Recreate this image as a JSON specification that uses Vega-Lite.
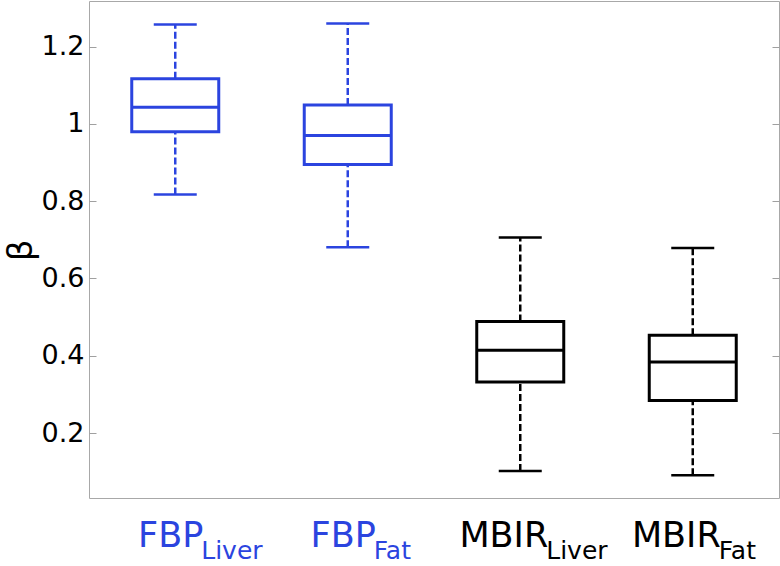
{
  "$schema": "https://vega.github.io/schema/vega-lite/v6.json",
  "width": 690,
  "height": 497,
  "autosize": {"type": "none"},
  "padding": {"left": 89, "top": 1, "right": 1, "bottom": 68},
  "background": "white",
  "config": {
    "view": {"stroke": "#a8a8a8", "strokeWidth": 1},
    "font": "DejaVu Sans"
  },
  "data": {
    "values": [
      {"pos": 1, "group": "FBP", "main": "FBP", "sub": "Liver", "lo": 0.817, "q1": 0.980, "med": 1.043, "q3": 1.117, "hi": 1.257},
      {"pos": 2, "group": "FBP", "main": "FBP", "sub": "Fat", "lo": 0.681, "q1": 0.895, "med": 0.970, "q3": 1.049, "hi": 1.260},
      {"pos": 3, "group": "MBIR", "main": "MBIR", "sub": "Liver", "lo": 0.102, "q1": 0.332, "med": 0.414, "q3": 0.489, "hi": 0.706},
      {"pos": 4, "group": "MBIR", "main": "MBIR", "sub": "Fat", "lo": 0.091, "q1": 0.284, "med": 0.384, "q3": 0.453, "hi": 0.679}
    ]
  },
  "encoding": {
    "x": {"field": "pos", "type": "quantitative", "scale": {"domain": [0.5, 4.5], "nice": false, "zero": false, "padding": 0}, "axis": null},
    "color": {"field": "group", "type": "nominal", "scale": {"domain": ["FBP", "MBIR"], "range": ["#2b44df", "#000000"]}, "legend": null}
  },
  "layer": [
    {
      "mark": {"type": "rule", "strokeWidth": 2.5, "strokeDash": [7, 3]},
      "encoding": {
        "y": {"field": "q3", "type": "quantitative",
          "scale": {"domain": [0.032, 1.318], "nice": false, "zero": false},
          "axis": {"title": "β", "titleFontSize": 34, "titleFontWeight": "normal", "titleColor": "#000", "titleAngle": -90, "titleX": -58, "titleY": 249, "titleBaseline": "alphabetic", "titleAlign": "center",
            "values": [0.2, 0.4, 0.6, 0.8, 1, 1.2], "format": ".1~f", "labelFontSize": 27, "labelColor": "#000", "labelPadding": 12,
            "tickSize": -7, "tickColor": "#a0a0a0", "domain": false, "grid": false}},
        "y2": {"field": "hi"}
      }
    },
    {
      "mark": {"type": "rule", "strokeWidth": 2.5, "strokeDash": [7, 3]},
      "encoding": {
        "y": {"field": "lo", "type": "quantitative",
          "axis": {"orient": "right", "title": null, "labels": false, "values": [0.2, 0.4, 0.6, 0.8, 1, 1.2], "tickSize": -7, "tickColor": "#a0a0a0", "domain": false, "grid": false}},
        "y2": {"field": "q1"}
      }
    },
    {
      "mark": {"type": "bar", "width": 87, "fill": "white", "fillOpacity": 0, "strokeWidth": 3},
      "encoding": {
        "y": {"field": "q1", "type": "quantitative", "axis": null},
        "y2": {"field": "q3"},
        "stroke": {"field": "group", "type": "nominal", "scale": {"domain": ["FBP", "MBIR"], "range": ["#2b44df", "#000000"]}, "legend": null}
      }
    },
    {
      "mark": {"type": "tick", "orient": "horizontal", "size": 87, "thickness": 3, "opacity": 1},
      "encoding": {"y": {"field": "med", "type": "quantitative", "axis": null}}
    },
    {
      "mark": {"type": "tick", "orient": "horizontal", "size": 43, "thickness": 2.5, "opacity": 1},
      "encoding": {"y": {"field": "hi", "type": "quantitative", "axis": null}}
    },
    {
      "mark": {"type": "tick", "orient": "horizontal", "size": 43, "thickness": 2.5, "opacity": 1},
      "encoding": {"y": {"field": "lo", "type": "quantitative", "axis": null}}
    },
    {
      "mark": {"type": "text", "fontSize": 35, "align": "right", "baseline": "alphabetic", "dx": 28, "dy": 49},
      "encoding": {"y": {"value": "height"}, "text": {"field": "main"}}
    },
    {
      "mark": {"type": "text", "fontSize": 25, "align": "left", "baseline": "alphabetic", "dx": 26, "dy": 61},
      "encoding": {"y": {"value": "height"}, "text": {"field": "sub"}}
    }
  ],
  "resolve": {"axis": {"y": "independent"}}
}
